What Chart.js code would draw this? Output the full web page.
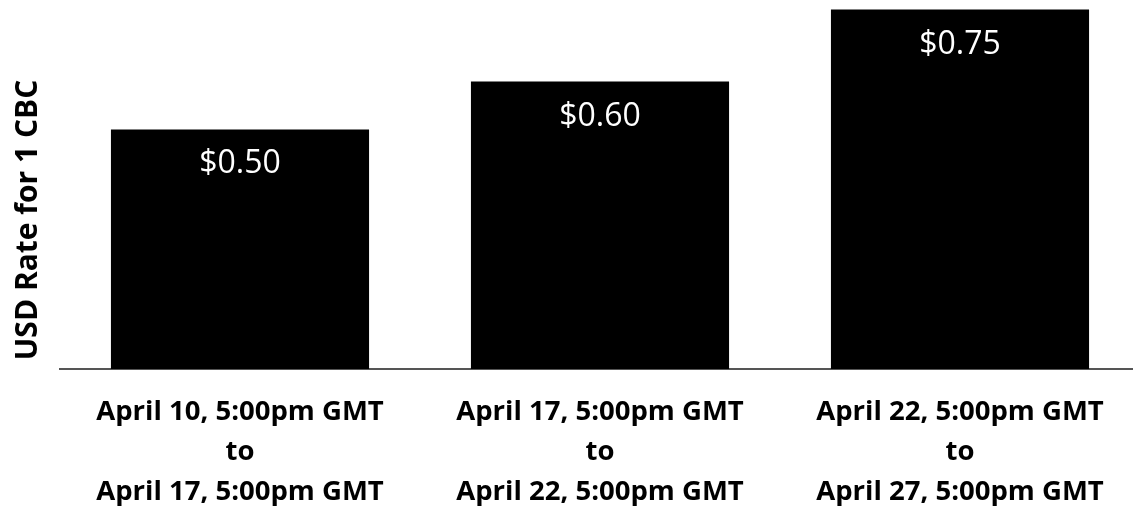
<!DOCTYPE html>
<html>
<head>
<meta charset="utf-8">
<script src="https://cdn.jsdelivr.net/npm/chart.js@4"></script>
<style>
  html, body { margin: 0; padding: 0; background: #fff; overflow: hidden; }
  #wrap { width: 1140px; height: 506px; position: relative; }
</style>
</head>
<body>
<div id="wrap"><canvas id="rate-chart"></canvas></div>
<script>
// ============ DATA ============ //
const periods = [
  ["April 10, 5:00pm GMT", "to", "April 17, 5:00pm GMT"],
  ["April 17, 5:00pm GMT", "to", "April 22, 5:00pm GMT"],
  ["April 22, 5:00pm GMT", "to", "April 27, 5:00pm GMT"]
];
const rates = [0.50, 0.60, 0.75];
const yTitle = "USD Rate for 1 CBC";

const fontFamily = "'Open Sans', Lato, sans-serif";

// white value labels inside the bars
const valueLabels = {
  id: "valueLabels",
  afterDatasetsDraw(chart) {
    const ctx = chart.ctx;
    const meta = chart.getDatasetMeta(0);
    ctx.save();
    ctx.fillStyle = "#ffffff";
    ctx.font = "32px " + fontFamily;
    ctx.textAlign = "center";
    ctx.textBaseline = "middle";
    meta.data.forEach((bar, i) => {
      ctx.fillText("$" + rates[i].toFixed(2), bar.x, bar.y + 35);
    });
    ctx.restore();
  }
};

// rotated y title on the left
const yTitlePlugin = {
  id: "yTitlePlugin",
  afterDraw(chart) {
    const ctx = chart.ctx;
    ctx.save();
    ctx.translate(28, 220);
    ctx.rotate(-Math.PI / 2);
    ctx.fillStyle = "#000";
    ctx.font = "bold 30px " + fontFamily;
    ctx.textAlign = "center";
    ctx.textBaseline = "middle";
    ctx.fillText(yTitle, 0, 0);
    ctx.restore();
  }
};

let rateChart = new Chart(document.getElementById("rate-chart"), {
  type: "bar",
  data: {
    labels: periods,
    datasets: [{
      data: rates,
      backgroundColor: "#000000",
      borderWidth: 0,
      barPercentage: 0.717,
      categoryPercentage: 1.0
    }]
  },
  options: {
    responsive: true,
    maintainAspectRatio: false,
    animation: false,
    layout: { padding: { left: 60, top: 0, right: 0, bottom: 0 } },
    plugins: {
      legend: { display: false },
      tooltip: { enabled: false }
    },
    scales: {
      x: {
        grid: { display: false, drawTicks: false },
        border: { display: true, color: "#555555", width: 2 },
        ticks: {
          color: "#000",
          padding: 23,
          maxRotation: 0,
          font: { family: fontFamily, size: 27.5, weight: "bold", lineHeight: 1.45 }
        },
        afterFit(scale) { scale.height = 137; }
      },
      y: {
        display: false,
        min: 0,
        max: 0.77
      }
    }
  },
  plugins: [valueLabels, yTitlePlugin]
});
</script>
</body>
</html>
